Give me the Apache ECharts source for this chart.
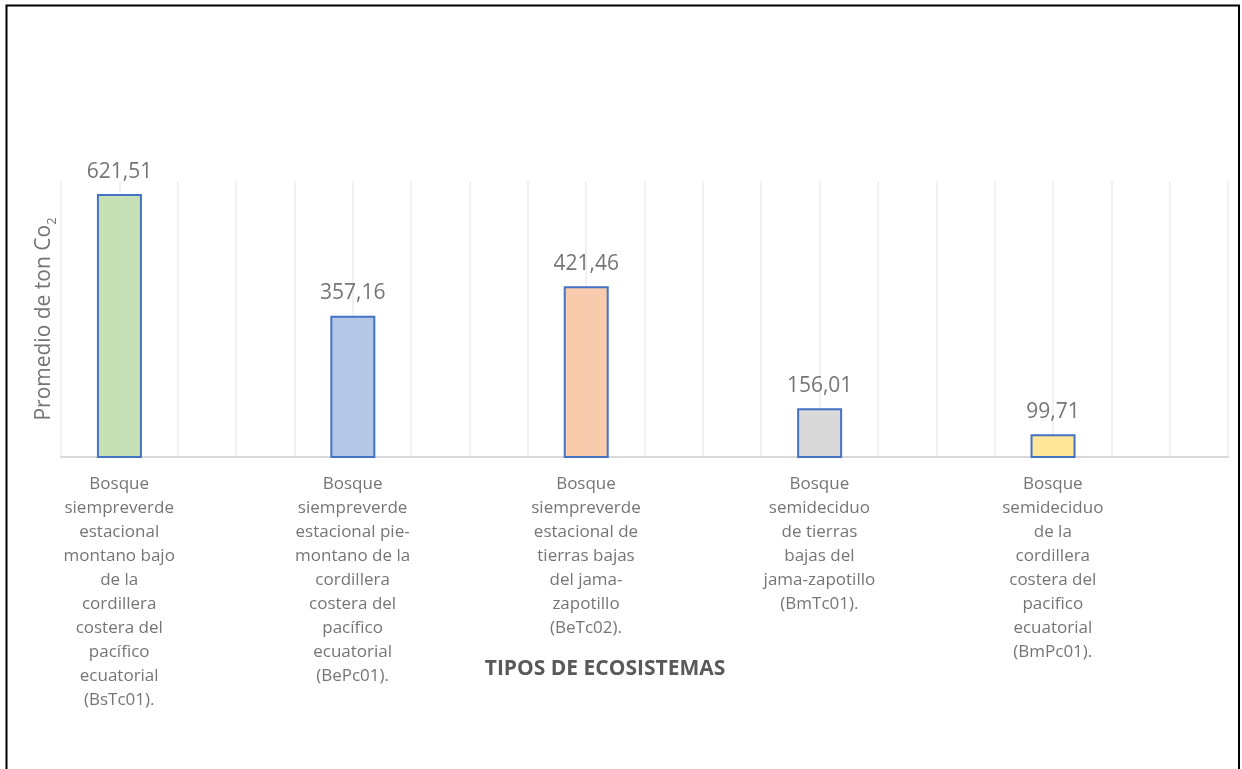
<!DOCTYPE html>
<html>
<head>
<meta charset="utf-8">
<script src="https://cdn.jsdelivr.net/npm/echarts@6/dist/echarts.min.js"></script>
<style>
  html, body { margin: 0; padding: 0; background: #ffffff; }
  #chart { width: 1242px; height: 769px; }
</style>
</head>
<body>
<div id="chart"></div>
<script>
// Ecosystem types (category labels, wrapped as printed)
const categories = [
  'Bosque\nsiempreverde\nestacional\nmontano bajo\nde la\ncordillera\ncostera del\npacífico\necuatorial\n(BsTc01).',
  'Bosque\nsiempreverde\nestacional pie-\nmontano de la\ncordillera\ncostera del\npacífico\necuatorial\n(BePc01).',
  'Bosque\nsiempreverde\nestacional de\ntierras bajas\ndel jama-\nzapotillo\n(BeTc02).',
  'Bosque\nsemideciduo\nde tierras\nbajas del\njama-zapotillo\n(BmTc01).',
  'Bosque\nsemideciduo\nde la\ncordillera\ncostera del\npacifico\necuatorial\n(BmPc01).'
];

// Average tonnes of CO2 per ecosystem
const values = [621.51, 357.16, 421.46, 156.01, 99.71];

// Fill colour of each column
const barColors = ['#c5e0b4', '#b4c7e7', '#f8cbad', '#d9d9d9', '#ffe699'];

// Empty companion series that reserves the second slot of each category
const emptySlot = ['-', '-', '-', '-', '-'];

const yTitle = '{a|Promedio de ton Co}{s|2}';
const xTitle = 'TIPOS DE ECOSISTEMAS';

const FONT = '"Open Sans", "Noto Sans", sans-serif';
const fmt = v => v.toFixed(2).replace('.', ',');

const chart = echarts.init(document.getElementById('chart'), null, { renderer: 'canvas' });

chart.setOption({
  animation: false,
  backgroundColor: '#ffffff',
  title: {
    text: xTitle,
    left: 600,
    top: 654,
    textAlign: 'center',
    textStyle: { fontFamily: FONT, fontSize: 21, fontWeight: 'bold', color: '#595959' }
  },
  grid: { left: 61, right: 14, top: 181, bottom: 312, containLabel: false },
  xAxis: [
    {
      type: 'category',
      data: categories,
      position: 'bottom',
      axisLine: { show: true, lineStyle: { color: '#d9d9d9', width: 2 } },
      axisTick: { show: false },
      splitLine: { show: false },
      axisLabel: {
        interval: 0,
        margin: 15,
        fontFamily: FONT,
        fontSize: 17,
        lineHeight: 24,
        color: '#757575',
        align: 'center',
        padding: [0, 117, 0, 0]
      },
      z: 3
    },
    {
      // fine vertical grid, four divisions per category
      type: 'value',
      position: 'top',
      min: 0,
      max: 20,
      interval: 1,
      axisLine: { show: false },
      axisTick: { show: false },
      axisLabel: { show: false },
      splitLine: { show: true, lineStyle: { color: '#ececec', width: 1.5 } }
    }
  ],
  yAxis: {
    type: 'value',
    min: 50,
    max: 650,
    axisLine: { show: false },
    axisTick: { show: false },
    axisLabel: { show: false },
    splitLine: { show: false },
    name: yTitle,
    nameLocation: 'middle',
    nameGap: 2,
    nameRotate: 90,
    nameTextStyle: {
      color: '#757575',
      rich: {
        a: { fontFamily: FONT, fontSize: 21, color: '#757575', lineHeight: 30, verticalAlign: 'middle' },
        s: { fontFamily: FONT, fontSize: 13, color: '#757575', lineHeight: 14, verticalAlign: 'bottom' }
      }
    }
  },
  series: [
    {
      type: 'bar',
      xAxisIndex: 0,
      barWidth: 45,
      barGap: '159%',
      data: values.map((v, i) => ({ value: v, itemStyle: { color: barColors[i] } })),
      itemStyle: { borderColor: '#4472c4', borderWidth: 2 },
      label: {
        show: true,
        position: 'top',
        distance: 12,
        fontFamily: FONT,
        fontSize: 21,
        color: '#757575',
        formatter: p => fmt(p.value)
      },
      z: 4
    },
    {
      type: 'bar',
      xAxisIndex: 0,
      barWidth: 45,
      data: emptySlot,
      silent: true
    }
  ],
  graphic: [
    {
      type: 'rect',
      shape: { x: 6.5, y: 5.5, width: 1232.5, height: 800 },
      style: { fill: 'none', stroke: '#000000', lineWidth: 2 },
      silent: true,
      z: 100
    }
  ]
});
</script>
</body>
</html>
